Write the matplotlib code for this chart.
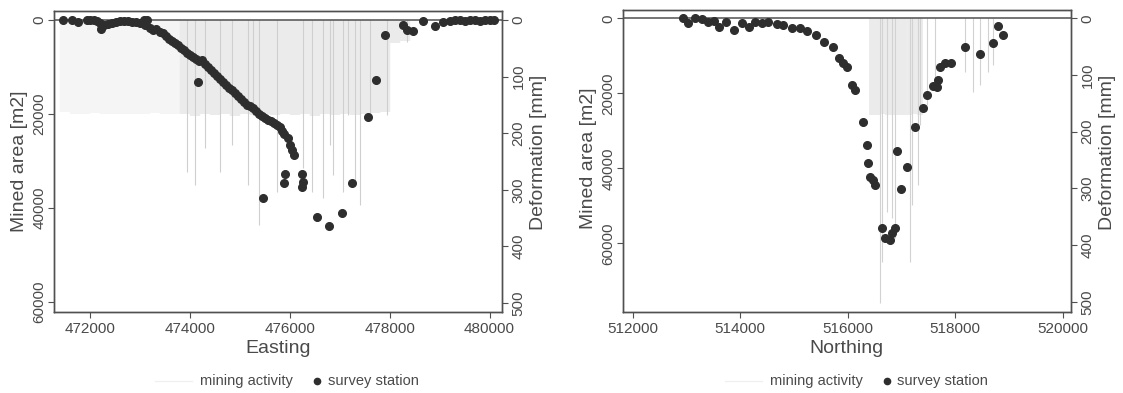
import matplotlib
matplotlib.use('Agg')
import matplotlib.pyplot as plt
from matplotlib.lines import Line2D

plt.rcParams['font.family'] = ['Liberation Sans', 'DejaVu Sans']

# ---------------- Left panel (Easting) ----------------
# survey stations: easting, deformation [mm]
east_station = [471460, 471640, 471760, 471940, 472000, 472080, 472140, 472200, 472220, 472280,
                472360, 472440, 472520, 472600, 472680, 472760, 472840, 472920, 473000, 473080,
                473140, 473100, 473200, 473260, 473320, 473400, 473460, 473520, 473580, 473640,
                473700, 473760, 473820, 473880, 473940, 474000, 474060, 474120, 474180, 474240,
                474300, 474360, 474420, 474480, 474540, 474600, 474660, 474720, 474780, 474840,
                474900, 474960, 475020, 475080, 475140, 475200, 475260, 475320, 475380, 475440,
                475500, 475560, 475620, 475680, 475740, 475800, 475840, 475880, 475960, 476000,
                476040, 476080, 474160, 475460, 475900, 475880, 476240, 476260, 476240, 476540,
                476780, 477040, 477240, 477560, 477720, 477900, 478260, 478340, 478460, 478660,
                478900, 479060, 479200, 479300, 479400, 479500, 479600, 479700, 479800, 479900,
                480000, 480080]
east_deform = [0, 0, 4, 0, 0, 0, 2, 5, 16, 9,
               7, 5, 4, 2, 2, 2, 4, 4, 5, 0,
               0, 9, 14, 18, 16, 21, 23, 28, 34, 37,
               41, 44, 49, 53, 58, 62, 65, 69, 72, 71,
               78, 83, 88, 94, 99, 104, 110, 115, 120, 124,
               129, 134, 140, 145, 150, 152, 155, 161, 166, 170,
               173, 177, 178, 182, 186, 189, 196, 201, 208, 221,
               230, 239, 110, 315, 272, 288, 272, 286, 295, 348,
               364, 341, 288, 171, 106, 27, 9, 18, 19, 2,
               11, 4, 2, 0, 0, 2, 0, 0, 2, 0,
               0, 0]

# mining activity: easting, mined area [m2]
east_mine_faint = [471500, 471700, 471900, 472100, 472300, 472500, 472700, 472900, 473100,
                   473300, 473500, 473700]
east_area_faint = [19500, 20000, 20000, 19800, 20000, 20000, 19900, 20000, 20000,
                   19700, 20000, 20000]
east_mine_wash = [473900, 474100, 474300, 474500, 474700, 474900, 475100, 475300, 475500,
                  475700, 475900, 476100, 476300, 476500, 476700, 476900, 477100, 477300,
                  477500, 477700, 477900, 478100, 478300]
east_area_wash = [20000, 20500, 20000, 20200, 20000, 20400, 20000, 20200, 20000,
                  20300, 20000, 20200, 20000, 20400, 20000, 20200, 20000, 20300,
                  20000, 19800, 19500, 5000, 4500]
east_mine_deep = [473940, 474100, 474300, 474600, 474840, 475160, 475260, 475380, 475740,
                  476260, 476440, 476660, 476800, 476860, 477060, 477160, 477300, 477400,
                  477600, 477940, 478340]
east_area_deep = [32350, 35100, 27200, 32350, 26600, 35100, 20200, 43600, 36600,
                  31500, 36600, 37900, 26600, 33000, 36600, 20200, 35100, 39400,
                  20200, 20200, 4700]

# ---------------- Right panel (Northing) ----------------
north_station = [512936, 513029, 513159, 513289, 513400, 513512, 513605, 513735, 513884, 514033,
                 514163, 514275, 514405, 514516, 514684, 514796, 514963, 515112, 515243, 515410,
                 515559, 515726, 515838, 515913, 515987, 516080, 516136, 516285, 516359, 516378,
                 516415, 516471, 516508, 516638, 516694, 516787, 516824, 516880, 516917, 516992,
                 517103, 517252, 517401, 517476, 517587, 517662, 517680, 517718, 517811, 517922,
                 518182, 518461, 518703, 518796, 518889]
north_deform = [0, 8, 0, 1, 7, 5, 15, 7, 21, 8,
                15, 7, 8, 7, 10, 12, 17, 17, 22, 29,
                42, 51, 70, 79, 86, 118, 126, 183, 223, 255,
                280, 285, 294, 370, 388, 391, 379, 370, 234, 301,
                262, 192, 158, 135, 120, 121, 109, 86, 79, 79,
                51, 63, 44, 14, 29]

north_mine_wash = [516450, 516550, 516650, 516750, 516850, 516950, 517050, 517150, 517250, 517350]
north_area_wash = [25800, 25800, 25600, 25800, 25800, 25700, 25800, 25800, 25500, 25800]
north_mine_deep = [516600, 516640, 516731, 516824, 516880, 517159, 517200, 517307, 517344,
                   517474, 517623, 518181, 518330, 518459, 518608, 518703]
north_area_deep = [75900, 65000, 51700, 53300, 58600, 65000, 49800, 44500, 28500,
                   23100, 18600, 14300, 19700, 17800, 14300, 12500]

east_ticks = [472000, 474000, 476000, 478000, 480000]
north_ticks = [512000, 514000, 516000, 518000, 520000]
area_ticks = [0, 20000, 40000, 60000]
deform_ticks = [0, 100, 200, 300, 400, 500]

TXT = '#4a4a4a'
SPINE = '#505050'
DOT = '#2e2e2e'

fig = plt.figure(figsize=(11.23, 3.93), dpi=100)
fig.patch.set_facecolor('white')


def setup(ax, ax2, xlim, ylim, dlim, xticks, xlabel):
    ax.set_xlim(*xlim)
    ax.set_ylim(*ylim)
    ax2.set_ylim(*dlim)
    ax.set_xticks(xticks)
    ax.set_xticklabels([str(t) for t in xticks])
    ax.set_yticks(area_ticks)
    ax.set_yticklabels([str(t) for t in area_ticks])
    ax2.set_yticks(deform_ticks)
    ax2.set_yticklabels([str(t) for t in deform_ticks])
    for a in (ax, ax2):
        for s in a.spines.values():
            s.set_color(SPINE)
            s.set_linewidth(1.0)
        a.tick_params(colors=SPINE, labelcolor=TXT, labelsize=11, length=4, width=0.8)
    ax.tick_params(axis='x', pad=3)
    ax.tick_params(axis='y', pad=1.5)
    ax2.tick_params(axis='y', pad=3)
    for lab in ax.get_yticklabels():
        lab.set_rotation(90)
        lab.set_va('center')
        lab.set_ha('right')
    for lab in ax2.get_yticklabels():
        lab.set_rotation(90)
        lab.set_va('center')
        lab.set_ha('left')
    ax.set_xlabel(xlabel, fontsize=14, color=TXT, labelpad=3)
    ax.set_ylabel('Mined area [m2]', fontsize=14, color=TXT)
    ax2.set_ylabel('Deformation [mm]', fontsize=14, color=TXT)
    ax.axhline(0, color=SPINE, lw=1.1, zorder=3)


# left panel
axL = fig.add_axes([0.0481, 0.2061, 0.3987, 0.7667])
axL2 = axL.twinx()
axL.vlines(east_mine_faint, 0, east_area_faint, color='#f5f5f5', lw=7.5, zorder=1)
axL.vlines(east_mine_wash, 0, east_area_wash, color='#ebebeb', lw=7.5, zorder=1)
axL.vlines(east_mine_deep, 0, east_area_deep, color='#cfcfcf', lw=0.8, zorder=2)
axL2.plot(east_station, east_deform, 'o', color=DOT, ms=5.5, zorder=5)
setup(axL, axL2, (471280, 480245), (62140, -1980), (516, -16.4), east_ticks, 'Easting')
axL.yaxis.set_label_coords(-0.058, 0.5)
axL2.yaxis.set_label_coords(1.062, 0.53)

# right panel
axR = fig.add_axes([0.5548, 0.2061, 0.3987, 0.7684])
axR2 = axR.twinx()
axR.vlines(north_mine_wash, 0, north_area_wash, color='#ebebeb', lw=4.2, zorder=1)
axR.vlines(north_mine_deep, 0, north_area_deep, color='#d2d2d2', lw=0.8, zorder=2)
axR2.plot(north_station, north_deform, 'o', color=DOT, ms=5.5, zorder=5)
setup(axR, axR2, (511820, 520150), (78330, -2213), (518, -14.6), north_ticks, 'Northing')
axR.yaxis.set_label_coords(-0.058, 0.51)
axR2.yaxis.set_label_coords(1.062, 0.53)


# legends (below each panel, as in the original)
def legend_at(x_text1, x_dot, x_text2, y):
    W, H = 1123.0, 393.0
    fig.add_artist(Line2D([(x_text1 - 45) / W, (x_text1 - 8) / W], [1 - y / H, 1 - y / H],
                          color='#f0f0f0', lw=1.0, transform=fig.transFigure))
    fig.text(x_text1 / W, 1 - y / H, 'mining activity', fontsize=10.5, color=TXT,
             ha='left', va='center')
    fig.add_artist(Line2D([x_dot / W], [1 - y / H], marker='o', ms=4.5, color=DOT,
                          lw=0, transform=fig.transFigure))
    fig.text(x_text2 / W, 1 - y / H, 'survey station', fontsize=10.5, color=TXT,
             ha='left', va='center')


legend_at(200, 317, 328, 381)
legend_at(770, 887, 897, 381)

fig.savefig('out.png', dpi=100)
